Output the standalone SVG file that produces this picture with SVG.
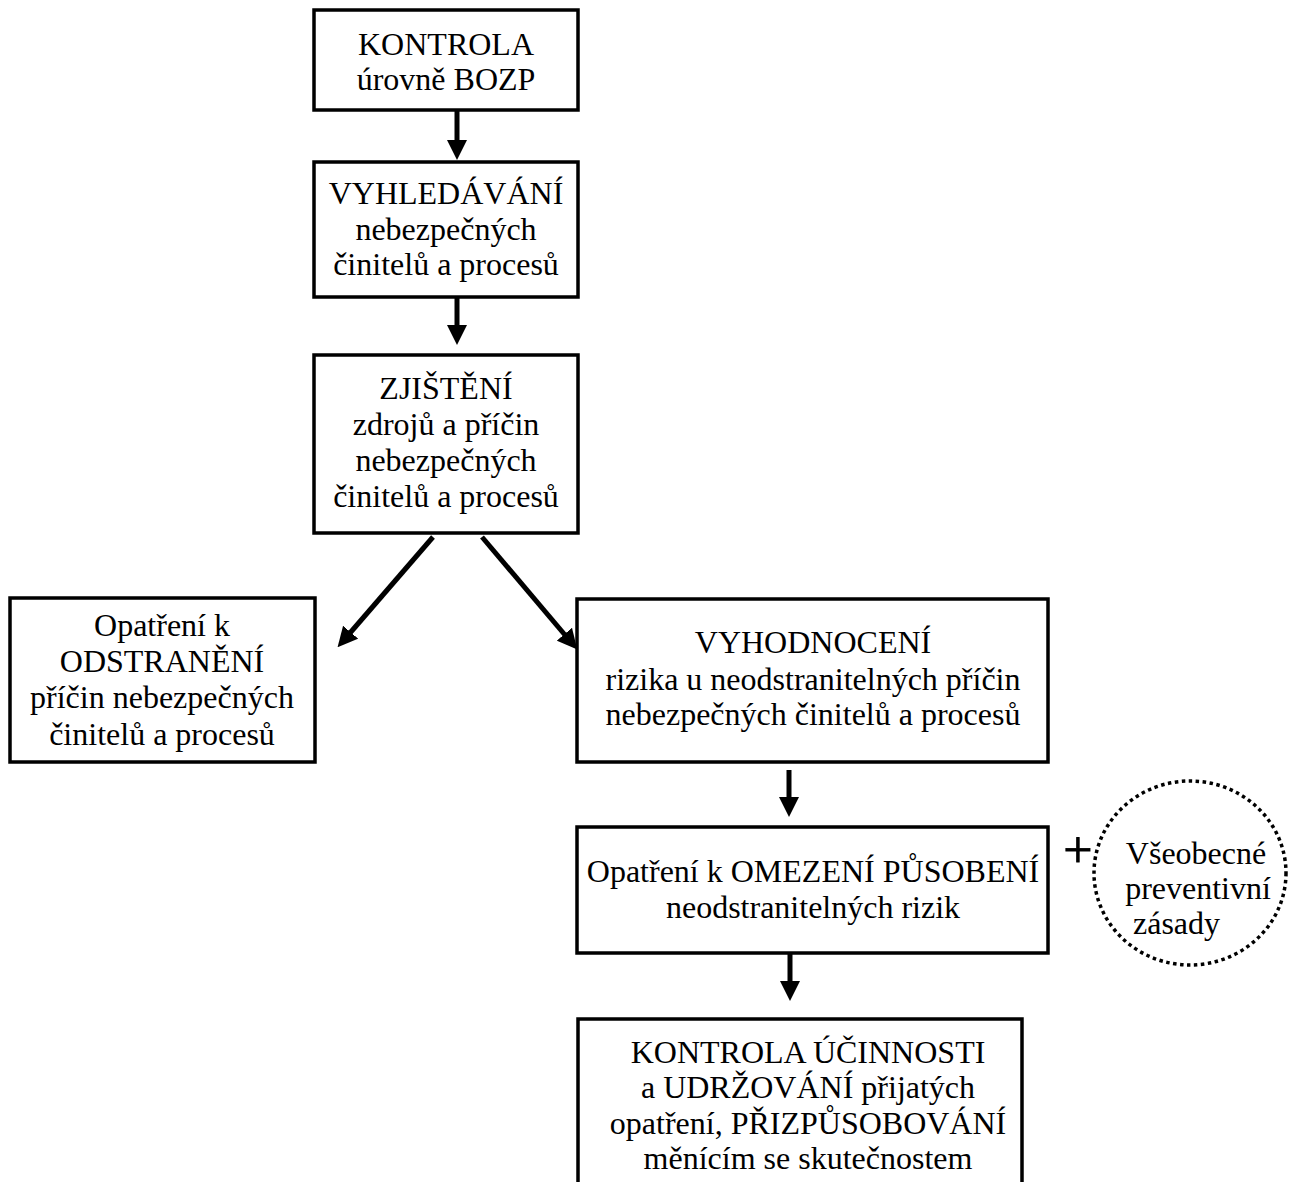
<svg xmlns="http://www.w3.org/2000/svg" width="1299" height="1182" viewBox="0 0 1299 1182">
<style>
.box{fill:#fff;stroke:#000;stroke-width:3.5}
.t{font-family:"Liberation Serif","Times New Roman",serif;font-size:32px;fill:#000;text-anchor:middle}
.c{stroke:#000;stroke-width:5;fill:none}
</style>
<defs>
<marker id="ah" viewBox="0 0 20 20" refX="1" refY="10" markerWidth="20" markerHeight="20" markerUnits="userSpaceOnUse" orient="auto">
<path d="M0,0 L20,10 L0,20 z" fill="#000"/>
</marker>
</defs>
<rect width="1299" height="1182" fill="#fff"/>
<g id="connectors">
<line class="c" x1="457" y1="110" x2="457" y2="141" marker-end="url(#ah)"/>
<line class="c" x1="457" y1="297" x2="457" y2="326" marker-end="url(#ah)"/>
<line class="c" x1="433" y1="537" x2="350" y2="633" marker-end="url(#ah)"/>
<line class="c" x1="482" y1="537" x2="565" y2="635" marker-end="url(#ah)"/>
<line class="c" x1="789" y1="770" x2="789" y2="798" marker-end="url(#ah)"/>
<line class="c" x1="790" y1="953" x2="790" y2="982" marker-end="url(#ah)"/>
</g>
<g id="n1">
<rect class="box" x="314" y="10" width="264" height="100"/>
<text class="t" x="446" y="55">KONTROLA</text>
<text class="t" x="446" y="90">úrovně BOZP</text>
</g>
<g id="n2">
<rect class="box" x="314" y="162" width="264" height="135"/>
<text class="t" x="446" y="204">VYHLEDÁVÁNÍ</text>
<text class="t" x="446" y="240">nebezpečných</text>
<text class="t" x="446" y="275">činitelů a procesů</text>
</g>
<g id="n3">
<rect class="box" x="314" y="355" width="264" height="178"/>
<text class="t" x="446" y="399">ZJIŠTĚNÍ</text>
<text class="t" x="446" y="435">zdrojů a příčin</text>
<text class="t" x="446" y="471">nebezpečných</text>
<text class="t" x="446" y="507">činitelů a procesů</text>
</g>
<g id="n4">
<rect class="box" x="10" y="598" width="305" height="164"/>
<text class="t" x="162" y="636">Opatření k</text>
<text class="t" x="162" y="672">ODSTRANĚNÍ</text>
<text class="t" x="162" y="708">příčin nebezpečných</text>
<text class="t" x="162" y="745">činitelů a procesů</text>
</g>
<g id="n5">
<rect class="box" x="577" y="599" width="471" height="163"/>
<text class="t" x="813" y="653">VYHODNOCENÍ</text>
<text class="t" x="813" y="690">rizika u neodstranitelných příčin</text>
<text class="t" x="813" y="725">nebezpečných činitelů a procesů</text>
</g>
<g id="n6">
<rect class="box" x="577" y="827" width="471" height="126"/>
<text class="t" x="813" y="882">Opatření k OMEZENÍ PŮSOBENÍ</text>
<text class="t" x="813" y="918">neodstranitelných rizik</text>
</g>
<g id="plus">
<text class="t" x="1078" y="867" style="font-size:52px;stroke:#000;stroke-width:0.8">+</text>
</g>
<g id="n7">
<ellipse cx="1190" cy="873" rx="96" ry="92" fill="none" stroke="#000" stroke-width="3.5" stroke-dasharray="3.5 3.5"/>
<text class="t" x="1196" y="864">Všeobecné</text>
<text class="t" x="1198" y="899">preventivní</text>
<text class="t" x="1133" y="934" style="text-anchor:start">zásady</text>
</g>
<g id="n8">
<path d="M578,1190 L578,1019 L1022,1019 L1022,1190" fill="#fff" stroke="#000" stroke-width="3.5"/>
<text class="t" x="808" y="1063">KONTROLA ÚČINNOSTI</text>
<text class="t" x="808" y="1098">a UDRŽOVÁNÍ přijatých</text>
<text class="t" x="808" y="1134">opatření, PŘIZPŮSOBOVÁNÍ</text>
<text class="t" x="808" y="1169">měnícím se skutečnostem</text>
</g>
</svg>
